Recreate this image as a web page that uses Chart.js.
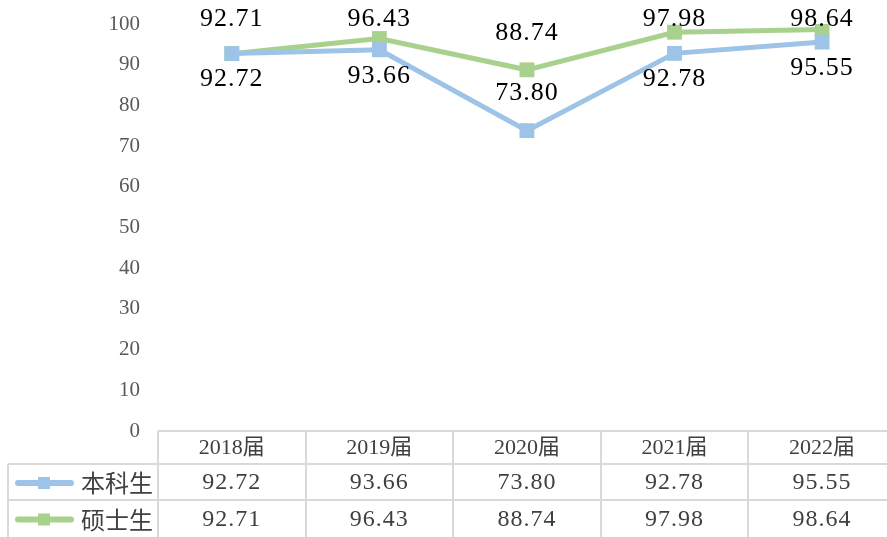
<!DOCTYPE html>
<html>
<head>
<meta charset="utf-8">
<script src="https://cdn.jsdelivr.net/npm/chart.js@4.4.1/dist/chart.umd.min.js"></script>
<style>
  html, body { margin: 0; padding: 0; background: #fff; overflow: hidden; }
  #c { display: block; }
</style>
</head>
<body>
<canvas id="c" width="887" height="537"></canvas>
<script>
const categories = ['2018届', '2019届', '2020届', '2021届', '2022届'];
const undergrad = [92.72, 93.66, 73.80, 92.78, 95.55];
const master = [92.71, 96.43, 88.74, 97.98, 98.64];
const seriesNames = ['本科生', '硕士生'];
const yTicks = [0, 10, 20, 30, 40, 50, 60, 70, 80, 90, 100];

const BLUE = '#9DC3E6';
const GREEN = '#A9D18E';
const SERIF = '"Liberation Serif", "Noto Sans CJK SC", serif';

// label placement per point (style config)
const blueLabelPlacement = ['below', 'below', 'above', 'below', 'below'];
const greenLabelPlacement = ['above', 'above', 'above', 'above', 'above'];

const toPoints = arr => arr.map((v, i) => ({ x: i, y: v }));

const labelPlugin = {
  id: 'pointLabels',
  afterDatasetsDraw(chart) {
    const ctx = chart.ctx;
    ctx.save();
    ctx.font = '26px ' + SERIF;
    try { ctx.letterSpacing = '1px'; } catch (e) {}
    ctx.fillStyle = '#000';
    ctx.textAlign = 'center';
    ctx.textBaseline = 'middle';
    chart.data.datasets.forEach((ds, di) => {
      const meta = chart.getDatasetMeta(di);
      meta.data.forEach((pt, i) => {
        const place = ds.labelPlacement[i];
        const y = place === 'above' ? Math.max(pt.y - 37, 19) : pt.y + 26;
        let x = pt.x;
        const txt = ds.data[i].y.toFixed(2);
        const w = ctx.measureText(txt).width;
        if (x + w / 2 > 884) x = 884 - w / 2;
        ctx.fillText(txt, x, y);
      });
    });
    ctx.restore();
  }
};

const tablePlugin = {
  id: 'dataTable',
  afterDraw(chart) {
    const ctx = chart.ctx;
    const xs = chart.scales.x;
    const area = chart.chartArea;
    const n = categories.length;
    const top = area.bottom;
    const rows = [top, top + 33, top + 69, top + 106];
    const leftX = 8;
    const W = chart.width;
    ctx.save();
    ctx.strokeStyle = '#D9D9D9';
    ctx.lineWidth = 2;
    ctx.beginPath();
    ctx.moveTo(area.left, rows[0]); ctx.lineTo(W, rows[0]);
    ctx.moveTo(leftX, rows[1]); ctx.lineTo(W, rows[1]);
    ctx.moveTo(leftX, rows[2]); ctx.lineTo(W, rows[2]);
    for (let i = 0; i <= n; i++) {
      const x = Math.round(xs.getPixelForValue(i - 0.5));
      ctx.moveTo(x, rows[0]); ctx.lineTo(x, rows[3] + 2);
    }
    ctx.moveTo(leftX, rows[1]); ctx.lineTo(leftX, rows[3] + 2);
    ctx.stroke();

    ctx.textAlign = 'center';
    ctx.textBaseline = 'middle';
    ctx.fillStyle = '#404040';
    ctx.font = '22px ' + SERIF;
    categories.forEach((c, i) => {
      ctx.fillText(c, xs.getPixelForValue(i), (rows[0] + rows[1]) / 2 + 1);
    });
    const seriesData = [undergrad, master];
    const colors = [BLUE, GREEN];
    seriesData.forEach((arr, r) => {
      const cy = (rows[r + 1] + rows[r + 2]) / 2 + 1;
      ctx.font = '24px ' + SERIF;
      try { ctx.letterSpacing = '1px'; } catch (e) {}
      ctx.fillStyle = '#404040';
      arr.forEach((v, i) => {
        ctx.fillText(v.toFixed(2), xs.getPixelForValue(i), cy);
      });
      try { ctx.letterSpacing = '0px'; } catch (e) {}
      ctx.strokeStyle = colors[r];
      ctx.lineWidth = 6;
      ctx.lineCap = 'round';
      ctx.beginPath();
      ctx.moveTo(18, cy); ctx.lineTo(71, cy);
      ctx.stroke();
      ctx.fillStyle = colors[r];
      ctx.fillRect(38, cy - 6, 12, 12);
      ctx.fillStyle = '#404040';
      ctx.font = '24px "Noto Sans CJK SC", sans-serif';
      ctx.textAlign = 'left';
      ctx.fillText(seriesNames[r], 81, cy);
      ctx.textAlign = 'center';
    });
    ctx.restore();
  }
};

new Chart(document.getElementById('c'), {
  type: 'line',
  data: {
    labels: categories,
    datasets: [
      {
        label: seriesNames[0],
        data: toPoints(undergrad),
        borderColor: BLUE,
        backgroundColor: BLUE,
        borderWidth: 5,
        pointStyle: 'rect',
        pointRadius: 10.5,
        pointHoverRadius: 10.5,
        pointBorderWidth: 0,
        tension: 0,
        labelPlacement: blueLabelPlacement
      },
      {
        label: seriesNames[1],
        data: toPoints(master),
        borderColor: GREEN,
        backgroundColor: GREEN,
        borderWidth: 5,
        pointStyle: 'rect',
        pointRadius: 10.5,
        pointHoverRadius: 10.5,
        pointBorderWidth: 0,
        tension: 0,
        labelPlacement: greenLabelPlacement
      }
    ]
  },
  options: {
    responsive: false,
    animation: false,
    layout: { autoPadding: false, padding: { top: 0, bottom: 106, left: 0, right: 0 } },
    plugins: { legend: { display: false }, tooltip: { enabled: false } },
    scales: {
      x: {
        type: 'linear',
        min: -0.5,
        max: 4.44,
        display: false
      },
      y: {
        min: 0,
        max: 100,
        afterFit(scale) { scale.width = 158; },
        afterBuildTicks(scale) { scale.ticks = yTicks.map(v => ({ value: v })); },
        grid: { display: false, drawTicks: false },
        border: { display: false },
        ticks: {
          padding: 18,
          color: '#595959',
          font: { family: SERIF, size: 21, lineHeight: 0.57 }
        }
      }
    }
  },
  plugins: [labelPlugin, tablePlugin]
});
</script>
</body>
</html>
